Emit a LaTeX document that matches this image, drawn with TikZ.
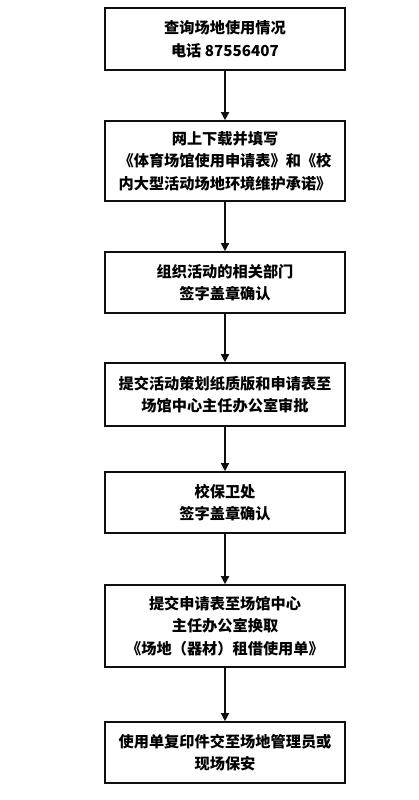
\documentclass[tikz,border=0pt]{standalone}
\usepackage{fontspec}
\setmainfont{Noto Sans CJK SC}
\usepackage{tikz}
\usetikzlibrary{arrows.meta}
\definecolor{ink}{RGB}{15,15,15}

\begin{document}
\begin{tikzpicture}[x=1pt,y=-1pt,
  stepbox/.style={draw=ink,line width=1.6pt,minimum width=240pt,align=center,
    inner sep=0pt,font=\fontsize{15.2}{22.5}\selectfont\bfseries},
  flow/.style={draw=ink,line width=1.3pt,-{Triangle[length=8pt,width=8pt]}}]
 \useasboundingbox (0,0) rectangle (419,800);
 % steps
 \node[stepbox,minimum height=62pt] (s1) at (225,39) {查询场地使用情况\\电话 87556407};
 \node[stepbox,minimum height=80pt] (s2) at (225,161) {网上下载并填写\\《体育场馆使用申请表》和《校\\内大型活动场地环境维护承诺》};
 \node[stepbox,minimum height=61pt] (s3) at (225,282.5) {组织活动的相关部门\\签字盖章确认};
 \node[stepbox,minimum height=63pt] (s4) at (225,394.5) {提交活动策划纸质版和申请表至\\场馆中心主任办公室审批};
 \node[stepbox,minimum height=61pt] (s5) at (225,502.5) {校保卫处\\签字盖章确认};
 \node[stepbox,minimum height=82pt] (s6) at (225,626) {提交申请表至场馆中心\\主任办公室换取\\《场地（器材）租借使用单》};
 \node[stepbox,minimum height=61pt] (s7) at (225,752.5) {使用单复印件交至场地管理员或\\现场保安};
 % connectors
 \foreach \a/\b in {s1/s2,s2/s3,s3/s4,s4/s5,s5/s6,s6/s7}
  \draw[flow] (\a) -- (\b);
\end{tikzpicture}
\end{document}
